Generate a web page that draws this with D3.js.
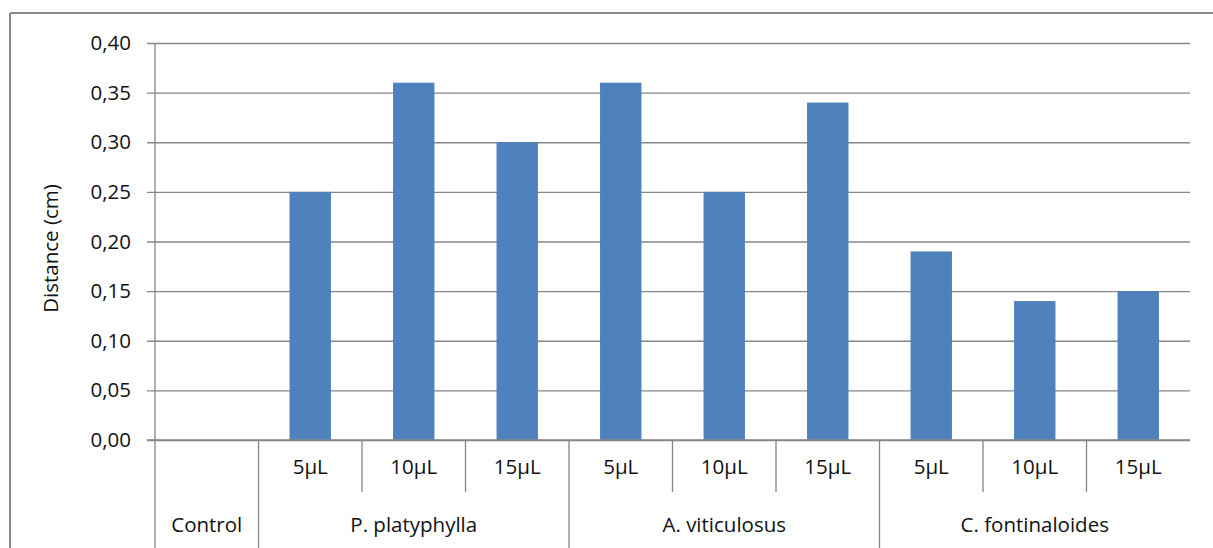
<!DOCTYPE html>
<html>
<head>
<meta charset="utf-8">
<script src="https://cdn.jsdelivr.net/npm/d3@7"></script>
<style>
  body { margin: 0; background: #fff; }
  svg text { font-family: "Open Sans", Lato, sans-serif; fill: #111; }
</style>
</head>
<body>
<div id="chart"></div>
<script>
    // data
    var groups = ['Control', 'P. platyphylla', 'A. viticulosus', 'C. fontinaloides'];
    var slotGroup = ['Control', 'P. platyphylla', 'P. platyphylla', 'P. platyphylla',
        'A. viticulosus', 'A. viticulosus', 'A. viticulosus',
        'C. fontinaloides', 'C. fontinaloides', 'C. fontinaloides'];
    var slotDose = ['', '5µL', '10µL', '15µL', '5µL', '10µL', '15µL', '5µL', '10µL', '15µL'];
    var values = [0, 0.25, 0.36, 0.30, 0.36, 0.25, 0.34, 0.19, 0.14, 0.15];
    var yTicks = [0, 0.05, 0.10, 0.15, 0.20, 0.25, 0.30, 0.35, 0.40];

(function () {
    'use strict';

    var W = 1213, H = 548;
    var mLeft = 155, mRight = 1190, mTop = 43, mBottom = 440;
    var gridColor = '#868686';
    var fs = 20.5;

    var svg = d3.select('#chart').append('svg')
        .attr('width', W).attr('height', H);

    // outer chart frame (top and left edges visible)
    svg.append('line').attr('x1', 10).attr('x2', W).attr('y1', 13).attr('y2', 13)
        .attr('stroke', '#8a8a8a').attr('stroke-width', 2);
    svg.append('line').attr('x1', 10).attr('x2', 10).attr('y1', 13).attr('y2', H)
        .attr('stroke', '#8a8a8a').attr('stroke-width', 2);

    var idx = d3.range(values.length);
    var x = d3.scaleBand().domain(idx).range([mLeft, mRight]).paddingInner(0).paddingOuter(0);
    var y = d3.scaleLinear().domain([0, 0.4]).range([mBottom, mTop]);
    var fmt = function (d) { return d3.format('.2f')(d).replace('.', ','); };

    // gridlines + y axis
    var yAxis = d3.axisLeft(y).tickValues(yTicks).tickFormat(fmt)
        .tickSize(-(mRight - mLeft)).tickPadding(24);
    var gy = svg.append('g').attr('transform', 'translate(' + mLeft + ',0)').call(yAxis);
    gy.select('.domain').remove();
    gy.selectAll('.tick line').attr('stroke', gridColor).attr('stroke-width', 1.3).attr('x1', -8);
    gy.selectAll('.tick text').attr('font-size', fs).attr('fill', '#111')
        .style('font-family', '"Open Sans", sans-serif');

    // vertical axis line
    svg.append('line').attr('x1', mLeft).attr('x2', mLeft).attr('y1', mTop).attr('y2', H)
        .attr('stroke', gridColor).attr('stroke-width', 1.3);

    // bars
    var barW = x.bandwidth() * 0.4;
    svg.selectAll('.bar').data(idx).enter().append('rect')
        .attr('class', 'bar')
        .attr('x', function (i) { return x(i) + (x.bandwidth() - barW) / 2; })
        .attr('y', function (i) { return y(values[i]); })
        .attr('width', barW)
        .attr('height', function (i) { return y(0) - y(values[i]); })
        .attr('fill', '#4f81bd');

    // baseline
    svg.append('line').attr('x1', mLeft - 8).attr('x2', mRight).attr('y1', mBottom).attr('y2', mBottom)
        .attr('stroke', gridColor).attr('stroke-width', 1.5);

    // multi-level category axis
    var rowSplit = 492;
    idx.forEach(function (i) {
        if (i === 0) return;
        var xs = x(i);
        var isGroupStart = slotGroup[i] !== slotGroup[i - 1];
        svg.append('line').attr('x1', xs).attr('x2', xs)
            .attr('y1', mBottom).attr('y2', isGroupStart ? H : rowSplit)
            .attr('stroke', gridColor).attr('stroke-width', 1.3);
        svg.append('text')
            .attr('x', xs + x.bandwidth() / 2).attr('y', 474)
            .attr('text-anchor', 'middle').attr('font-size', fs)
            .text(slotDose[i]);
    });

    groups.forEach(function (g) {
        var members = idx.filter(function (i) { return slotGroup[i] === g; });
        var x0 = x(members[0]), x1 = x(members[members.length - 1]) + x.bandwidth();
        svg.append('text')
            .attr('x', (x0 + x1) / 2).attr('y', 532)
            .attr('text-anchor', 'middle').attr('font-size', fs)
            .text(g);
    });

    // y axis title
    svg.append('text')
        .attr('transform', 'translate(58,' + ((mTop + mBottom) / 2 + 7) + ') rotate(-90)')
        .attr('text-anchor', 'middle').attr('font-size', fs)
        .text('Distance (cm)');
}());
</script>
</body>
</html>
